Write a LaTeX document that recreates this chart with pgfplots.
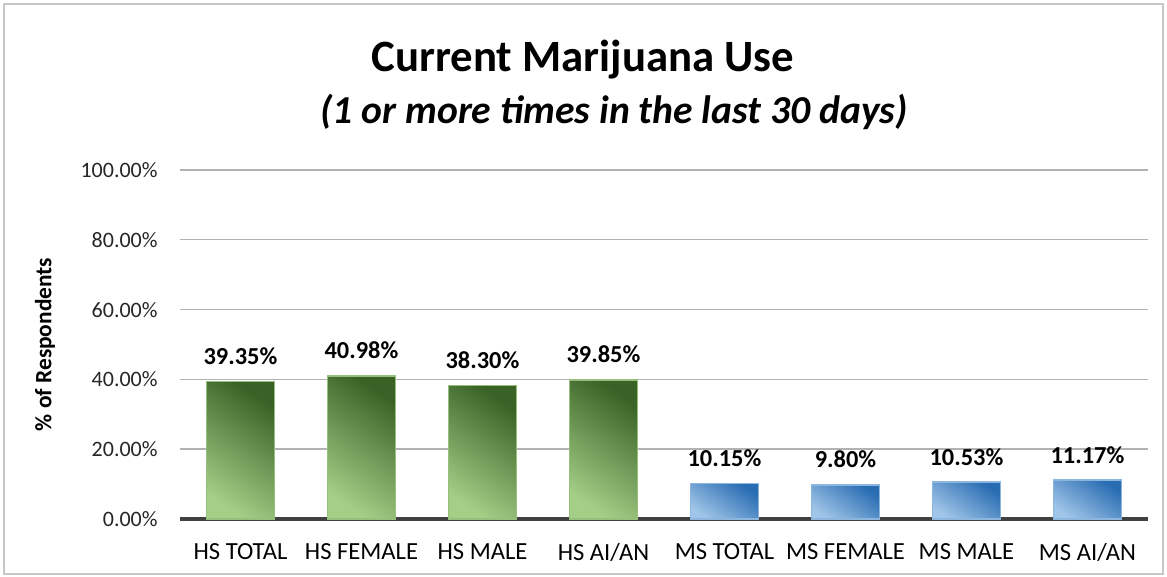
\documentclass[border=0pt]{standalone}
\usepackage{pgfplots}
\pgfplotsset{compat=1.18}
\usepackage{fontspec}
\setmainfont{Carlito}
\definecolor{gdark}{RGB}{58,98,38}
\definecolor{gmid}{RGB}{105,152,72}
\definecolor{glight}{RGB}{165,206,135}
\definecolor{gline}{RGB}{150,190,125}
\definecolor{bdark}{RGB}{40,108,178}
\definecolor{bmid}{RGB}{90,150,205}
\definecolor{blight}{RGB}{160,197,232}
\definecolor{bline}{RGB}{140,182,222}
\pgfplotsset{
  gbar/.style={ybar, bar shift=0pt, draw=gline, line width=0.8pt, bottom color=glight, middle color=gmid, top color=gdark, shading angle=-35},
  bbar/.style={ybar, bar shift=0pt, draw=bline, line width=0.8pt, bottom color=blight, middle color=bmid, top color=bdark, shading angle=-35},
}
\begin{document}
\begin{tikzpicture}
\path[use as bounding box] (0,0) rectangle (583.5pt,288.5pt);
\draw[black!22, line width=0.8pt] (2pt,1.5pt) rectangle (581.5pt,286.5pt);
\node[font=\fontsize{22.4}{24}\selectfont\bfseries] at (291.5pt,258.5pt) {Current Marijuana Use};
\node[font=\fontsize{19.8}{22}\selectfont\bfseries\itshape] at (307pt,232.5pt) {(1 or more times in the last 30 days)};
\begin{axis}[
  at={(90pt,29pt)}, anchor=south west,
  scale only axis, width=484pt, height=174.5pt,
  xmin=-0.5, xmax=7.5, ymin=0, ymax=100,
  xtick={0,...,7},
  xticklabels={HS TOTAL,HS FEMALE,HS MALE,HS AI/AN,MS TOTAL,MS FEMALE,MS MALE,MS AI/AN},
  ytick={0,20,40,60,80,100},
  /pgf/number format/assume math mode=true,
  yticklabel={\pgfmathprintnumber[fixed,fixed zerofill,precision=2]{\tick}\%},
  yticklabel style={font=\fontsize{11}{13}\selectfont, inner sep=0pt, anchor=east, xshift=-11pt, text=black!85},
  xticklabel style={font=\fontsize{12.3}{14}\selectfont, inner sep=0pt, anchor=north, yshift=-12pt, text=black},
  major tick length=0pt,
  axis lines*=left,
  y axis line style={draw=none},
  x axis line style={line width=1.6pt, draw=black!75},
  ymajorgrids, grid style={black!30, line width=0.7pt},
  ylabel={\% of Respondents},
  ylabel style={font=\fontsize{11.7}{13}\selectfont\bfseries, at={(axis description cs:-0.1395,0.5)}, anchor=center},
  bar width=0.56,
  nodes near coords={\pgfmathprintnumber[fixed,fixed zerofill,precision=2]{\pgfplotspointmeta}\%},
  every node near coord/.append style={font=\fontsize{12.2}{14}\selectfont\bfseries, anchor=base, yshift=8.5pt, inner sep=0pt, text=black},
  clip=false,
]
\addplot[gbar] coordinates {(0,39.35)};
\addplot[gbar] coordinates {(1,40.98)};
\addplot[gbar] coordinates {(2,38.30)};
\addplot[gbar] coordinates {(3,39.85)};
\addplot[bbar] coordinates {(4,10.15)};
\addplot[bbar] coordinates {(5,9.80)};
\addplot[bbar] coordinates {(6,10.53)};
\addplot[bbar] coordinates {(7,11.17)};
\end{axis}
\end{tikzpicture}
\end{document}
